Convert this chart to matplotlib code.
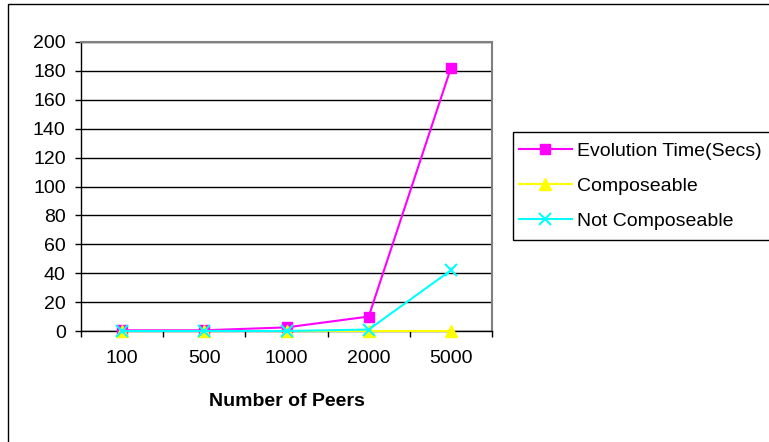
import matplotlib
matplotlib.use("Agg")
import matplotlib.pyplot as plt
from matplotlib.patches import Rectangle

categories = ["100", "500", "1000", "2000", "5000"]
evolution_time = [0.5, 0.5, 2.5, 10, 182]
composeable = [0, 0, 0, 0, 0]
not_composeable = [0, 0, 0, 1, 42]
y_ticks = [0, 20, 40, 60, 80, 100, 120, 140, 160, 180, 200]

plt.rcParams['font.family'] = ['Liberation Sans', 'DejaVu Sans']

W, H = 769, 442
fig = plt.figure(figsize=(W / 100, H / 100), dpi=100)
fig.patch.set_facecolor('white')

l, r, t, b = 81, 492, 42, 331
ax = fig.add_axes([l / W, 1 - b / H, (r - l) / W, (b - t) / H])

FS = 14
x = list(range(len(categories)))
ax.plot(x, evolution_time, color='#FF00FF', lw=1.5, marker='s', ms=7.5,
        label='Evolution Time(Secs)', clip_on=False, zorder=3)
ax.plot(x, composeable, color='#FFFF00', lw=1.5, marker='^', ms=8.5,
        label='Composeable', clip_on=False, zorder=4)
ax.plot(x, not_composeable, color='#00FFFF', lw=1.5, marker='x', ms=8, mew=1.5,
        label='Not Composeable', clip_on=False, zorder=5)

ax.set_xlim(-0.5, len(categories) - 0.5)
ax.set_ylim(0, 200)
ax.set_yticks(y_ticks)
ax.set_yticklabels([str(v) for v in y_ticks], fontsize=FS)
ax.set_xticks(x)
ax.set_xticklabels(categories, fontsize=FS)
ax.tick_params(axis='x', which='major', length=0, pad=14)
ax.set_xticks([i - 0.5 for i in range(len(categories) + 1)], minor=True)
ax.tick_params(axis='x', which='minor', length=4, width=1.0, direction='out', color='black')
ax.tick_params(axis='y', length=4, width=1.0, direction='out', pad=7, color='black')

ax.yaxis.grid(True, color='black', lw=1.0)
ax.set_axisbelow(True)
for s in ['top', 'right']:
    ax.spines[s].set_color('#808080')
    ax.spines[s].set_linewidth(1.5)
for s in ['left', 'bottom']:
    ax.spines[s].set_color('black')
    ax.spines[s].set_linewidth(1.0)

ax.set_xlabel('Number of Peers', fontsize=FS, fontweight='bold')
ax.xaxis.set_label_coords(0.5, -(401 - b) / (b - t))
ax.xaxis.label.set_va('center')

# outer chart border
fig.add_artist(Rectangle((8 / W, -0.05), 1.1, 1 - 4 / H + 0.05, transform=fig.transFigure,
                         fill=False, edgecolor='black', lw=1.0, clip_on=False))
# legend frame
fig.add_artist(Rectangle((513 / W, 1 - 240 / H), 300 / W, 108 / H, transform=fig.transFigure,
                         fill=False, edgecolor='black', lw=1.0, clip_on=False))

leg = fig.legend(loc='upper left', bbox_to_anchor=(519 / W, 1 - 142 / H),
                 frameon=False, fontsize=FS, handlelength=2.7, handletextpad=0.3,
                 labelspacing=0.9, borderaxespad=0, borderpad=0)

fig.savefig('out.png', dpi=100, facecolor='white')
